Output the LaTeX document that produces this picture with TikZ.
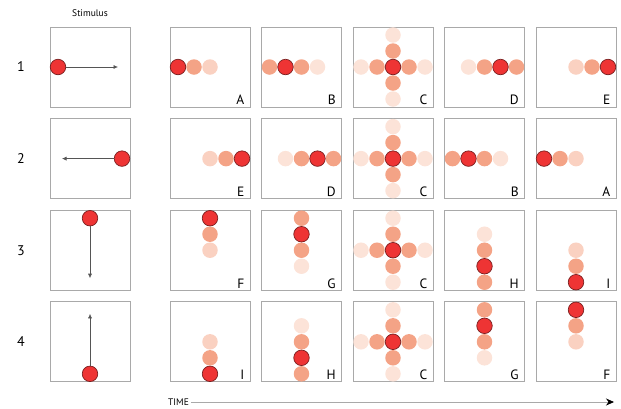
\documentclass[tikz,border=0pt]{standalone}
\usepackage{fontspec}
\setmainfont{PT Sans}
\usetikzlibrary{arrows.meta, positioning}
\definecolor{spotRed}{HTML}{EE3434}
\definecolor{spotEdge}{HTML}{7A1F1F}
\definecolor{spotMid}{HTML}{F4A386}
\definecolor{spotLight}{HTML}{FAD1C1}
\definecolor{spotPale}{HTML}{FCE3D8}
\definecolor{frameGrey}{HTML}{A9A9A9}
\definecolor{lineGrey}{HTML}{555555}
\tikzset{
  frame/.style    = {draw=frameGrey, line width=0.9pt, minimum size=80pt, inner sep=0pt},
  spot/.style     = {circle, minimum size=15.5pt, inner sep=0pt},
  hotdot/.style   = {spot, fill=spotRed, draw=spotEdge, line width=0.7pt},
  middot/.style   = {spot, fill=spotMid},
  lightdot/.style = {spot, fill=spotLight},
  palest/.style   = {spot, fill=spotPale},
  tag/.style      = {font=\fontsize{13.5}{14}\selectfont, anchor=base east, inner sep=0pt},
  rowlbl/.style   = {font=\fontsize{14}{14}\selectfont},
  small/.style    = {font=\fontsize{9.5}{10}\selectfont},
  moveline/.style = {-{Latex[length=4.5pt, width=4pt]}, line width=0.6pt, lineGrey},
  timeline/.style = {-{Stealth[length=8pt, width=7pt, black]}, line width=0.8pt, frameGrey},
}
% spots of each snapshot: x/y in steps (y down), style
\def\spotsA{0/0/lightdot, -1/0/middot, -2/0/hotdot}
\def\spotsB{1/0/palest, -2/0/middot, 0/0/middot, -1/0/hotdot}
\def\spotsC{-2/0/palest, 2/0/palest, 0/-2/palest, 0/2/palest, -1/0/middot, 1/0/middot, 0/-1/middot, 0/1/middot, 0/0/hotdot}
\def\spotsD{-1/0/palest, 0/0/middot, 2/0/middot, 1/0/hotdot}
\def\spotsE{0/0/lightdot, 1/0/middot, 2/0/hotdot}
\def\spotsF{0/0/lightdot, 0/-1/middot, 0/-2/hotdot}
\def\spotsG{0/1/palest, 0/-2/middot, 0/0/middot, 0/-1/hotdot}
\def\spotsH{0/-1/palest, 0/0/middot, 0/2/middot, 0/1/hotdot}
\def\spotsI{0/0/lightdot, 0/1/middot, 0/2/hotdot}
\begin{document}
\begin{tikzpicture}[x=1pt, y=-1pt]
  \useasboundingbox (0,0) rectangle (621,408);
  % stimulus column
  \node[small] (stimhead) at (90,13) {Stimulus};
  \foreach \row/\dx/\dy in {1/-1/0, 2/1/0, 3/0/-1, 4/0/1} {
    \node[rowlbl] (num\row) at (21, {67+91.6*(\row-1)}) {\row};
    \node[frame] (stim\row) at (90, {67+91.6*(\row-1)}) {};
    \coordinate (aim\row) at ([shift={(-28*\dx,-28*\dy)}]stim\row.center);
    \node[hotdot] (ball\row) at ([shift={(32*\dx,32*\dy)}]stim\row.center) {};
    \draw[moveline] (ball\row) -- (aim\row);
  }
  % snapshots
  \foreach \row/\seq in {1/{A,B,C,D,E}, 2/{E,D,C,B,A}, 3/{F,G,C,H,I}, 4/{I,H,C,G,F}} {
    \foreach \lt [count=\col] in \seq {
      \node[frame] (p\row\col) at ({210+91.5*(\col-1)}, {67+91.6*(\row-1)}) {};
      \expandafter\let\expandafter\spots\csname spots\lt\endcsname
      \foreach \i/\j/\sty [count=\k] in \spots
        \node[\sty] (s\row\col\k) at ([shift={(16*\i,16*\j)}]p\row\col.center) {};
      \node[tag] (t\row\col) at ([shift={(-6,-2.5)}]p\row\col.south east) {\lt};
    }
  }
  % time axis
  \node[small, anchor=west, inner sep=0pt] (timelbl) at (168,402) {TIME};
  \coordinate (timeend) at (614,402);
  \draw[timeline] ([xshift=2pt]timelbl.east) -- (timeend);
\end{tikzpicture}
\end{document}
